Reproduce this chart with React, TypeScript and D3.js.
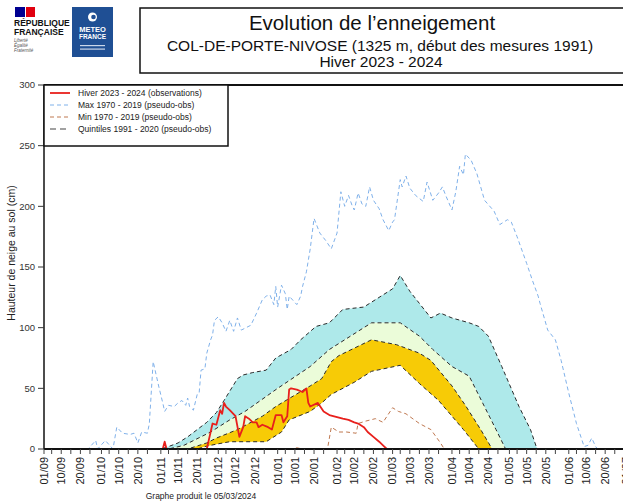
import React, { useEffect, useRef } from 'react';
import * as d3 from 'd3';

type Pt = [string, number];

// Hiver 2023 - 2024 observations (cm), dd/mm
const observations: Pt[] = [
  ['01/09', 0], ['02/11', 0], ['03/11', 6], ['04/11', 0], ['25/11', 0], ['28/11', 21], ['30/11', 20],
  ['02/12', 32], ['03/12', 29], ['04/12', 38], ['05/12', 35], ['07/12', 32], ['10/12', 27], ['12/12', 10],
  ['14/12', 18], ['15/12', 27], ['17/12', 25], ['19/12', 22], ['21/12', 22], ['22/12', 18], ['24/12', 20],
  ['27/12', 18], ['29/12', 16], ['31/12', 28], ['03/01', 28], ['04/01', 22], ['06/01', 27], ['07/01', 49],
  ['08/01', 50], ['11/01', 49], ['14/01', 47], ['16/01', 50], ['17/01', 38], ['18/01', 35], ['22/01', 38],
  ['25/01', 31], ['28/01', 28], ['04/02', 25], ['07/02', 24], ['10/02', 22], ['12/02', 21], ['15/02', 18],
  ['17/02', 14], ['20/02', 10], ['23/02', 6], ['25/02', 3], ['27/02', 0], ['05/03', 0],
];

// Max 1970 - 2019 (pseudo-obs)
const maxSeries: Pt[] = [
  ['01/09', 0], ['24/09', 0], ['28/09', 7], ['29/09', 0], ['03/10', 7], ['07/10', 0], ['09/10', 18],
  ['12/10', 13], ['16/10', 12], ['18/10', 13], ['20/10', 5], ['22/10', 14], ['25/10', 13], ['26/10', 21],
  ['28/10', 72], ['31/10', 51], ['02/11', 38], ['03/11', 31], ['05/11', 36], ['08/11', 35], ['10/11', 38],
  ['12/11', 40], ['14/11', 36], ['15/11', 42], ['16/11', 35], ['18/11', 32], ['20/11', 45], ['21/11', 46],
  ['22/11', 65], ['24/11', 66], ['25/11', 79], ['27/11', 90], ['28/11', 94], ['29/11', 106], ['01/12', 109],
  ['03/12', 104], ['05/12', 97], ['07/12', 106], ['09/12', 97], ['11/12', 108], ['13/12', 98], ['18/12', 102],
  ['21/12', 112], ['24/12', 123], ['26/12', 126], ['28/12', 127], ['30/12', 119], ['31/12', 134], ['01/01', 117],
  ['03/01', 135], ['05/01', 128], ['06/01', 115], ['07/01', 126], ['11/01', 119], ['13/01', 126], ['14/01', 134],
  ['16/01', 146], ['18/01', 165], ['20/01', 190], ['23/01', 178], ['26/01', 172], ['29/01', 165], ['01/02', 178],
  ['03/02', 212], ['05/02', 200], ['07/02', 209], ['09/02', 200], ['10/02', 197], ['12/02', 211], ['14/02', 202],
  ['16/02', 200], ['18/02', 216], ['20/02', 205], ['23/02', 198], ['25/02', 189], ['28/02', 180], ['01/03', 187],
  ['02/03', 189], ['05/03', 222], ['06/03', 216], ['08/03', 225], ['10/03', 215], ['13/03', 209], ['17/03', 204],
  ['19/03', 220], ['22/03', 205], ['25/03', 211], ['27/03', 216], ['29/03', 208], ['01/04', 197], ['03/04', 212],
  ['05/04', 233], ['07/04', 226], ['08/04', 243], ['11/04', 238], ['14/04', 227], ['18/04', 205], ['23/04', 196],
  ['26/04', 185], ['30/04', 189], ['02/05', 187], ['05/05', 175], ['10/05', 153], ['13/05', 139], ['16/05', 126],
  ['17/05', 120], ['21/05', 98], ['25/05', 90], ['28/05', 73], ['01/06', 46], ['05/06', 21], ['09/06', 2],
  ['11/06', 3], ['13/06', 9], ['15/06', 2], ['16/06', 0], ['31/08', 0],
];

// Min 1970 - 2019 (pseudo-obs)
const minSeries: Pt[] = [
  ['01/09', 0], ['08/01', 0], ['11/01', 1], ['14/01', 0], ['27/01', 0], ['29/01', 18], ['02/02', 14],
  ['06/02', 14], ['11/02', 13], ['12/02', 21], ['16/02', 23], ['21/02', 25], ['25/02', 22], ['01/03', 34],
  ['04/03', 31], ['08/03', 29], ['15/03', 21], ['21/03', 16], ['26/03', 5], ['28/03', 0], ['31/08', 0],
];

// Quintiles 1991 - 2020 (pseudo-obs)
const q80: Pt[] = [
  ['01/11', 0], ['05/11', 2], ['10/11', 5], ['15/11', 10], ['20/11', 16], ['25/11', 22], ['30/11', 30],
  ['04/12', 40], ['11/12', 58], ['14/12', 61], ['19/12', 63], ['26/12', 65], ['31/12', 75], ['08/01', 82],
  ['13/01', 90], ['21/01', 101], ['28/01', 104], ['04/02', 115], ['15/02', 117], ['01/03', 132], ['05/03', 143],
  ['10/03', 130], ['15/03', 120], ['21/03', 108], ['26/03', 112], ['01/04', 108], ['10/04', 104], ['15/04', 101],
  ['20/04', 93], ['27/04', 68], ['06/05', 35], ['12/05', 16], ['15/05', 2], ['16/05', 0],
];
const q60: Pt[] = [
  ['05/11', 0], ['13/11', 3], ['27/11', 14], ['07/12', 24], ['15/12', 31], ['01/01', 50], ['18/01', 68],
  ['28/01', 82], ['19/02', 104], ['05/03', 104], ['15/03', 93], ['22/03', 82], ['01/04', 68], ['10/04', 60],
  ['17/04', 38], ['24/04', 16], ['29/04', 0],
];
const q40: Pt[] = [
  ['15/11', 0], ['25/11', 5], ['30/11', 9], ['11/12', 16], ['24/12', 27], ['31/12', 35], ['18/01', 52],
  ['24/01', 58], ['29/01', 72], ['02/02', 77], ['19/02', 90], ['03/03', 86], ['15/03', 79], ['21/03', 73],
  ['01/04', 52], ['08/04', 36], ['16/04', 16], ['22/04', 0],
];
const q20: Pt[] = [
  ['20/11', 0], ['24/11', 2], ['30/11', 4], ['07/12', 6], ['26/12', 6], ['03/01', 14], ['07/01', 24],
  ['18/01', 31], ['24/01', 38], ['29/01', 45], ['10/02', 55], ['19/02', 64], ['05/03', 69], ['15/03', 54],
  ['25/03', 40], ['07/04', 16], ['15/04', 0],
];

const yTicks = [0, 50, 100, 150, 200, 250, 300];
const labelDays = [1, 10, 20];
const minorDays = [5, 15, 25];
const legendLabels = [
  'Hiver 2023 - 2024 (observations)',
  'Max 1970 - 2019 (pseudo-obs)',
  'Min 1970 - 2019 (pseudo-obs)',
  'Quintiles 1991 - 2020 (pseudo-obs)',
];
const titleLines = [
  'Evolution de l\u2019enneigement',
  'COL-DE-PORTE-NIVOSE (1325 m, d\u00e9but des mesures 1991)',
  'Hiver 2023 - 2024',
];

const parseDay = (s: string) => {
  const [dd, mm] = s.split('/').map(Number);
  return new Date(mm >= 9 ? 2023 : 2024, mm - 1, dd);
};

const FONT = '"Liberation Sans", Arial, sans-serif';

const SnowChart: React.FC = () => {
  const svgRef = useRef<SVGSVGElement>(null);

  useEffect(() => {
    if (!svgRef.current) return;
    document.body.style.margin = '0';
    const width = 623;
    const height = 501;
    const svg = d3.select(svgRef.current);
    svg.selectAll('*').remove();
    svg.attr('width', width).attr('height', height).style('display', 'block').style('background', '#fff');

    const start = new Date(2023, 8, 1);
    const end = new Date(2024, 8, 1);
    const x = d3.scaleTime().domain([start, end]).range([44, 745]);
    const y = d3.scaleLinear().domain([0, 300]).range([449, 85]);

    const toData = (s: Pt[]) => s.map(([d, v]) => [parseDay(d), v] as [Date, number]);
    const padZero = (s: Pt[]) => [[start, 0] as [Date, number], ...toData(s), [new Date(2024, 7, 31), 0] as [Date, number]];

    const line = d3.line<[Date, number]>().x(d => x(d[0])).y(d => y(d[1]));
    const band = (up: [Date, number][], lo: [Date, number][]) =>
      (line(up) || '') + 'L' + (line([...lo].reverse()) || '').slice(1) + 'Z';

    svg.append('defs').append('clipPath').attr('id', 'plot-clip')
      .append('rect').attr('x', 44).attr('y', 85).attr('width', 701).attr('height', 366);

    const plot = svg.append('g').attr('clip-path', 'url(#plot-clip)');

    const Q20 = padZero(q20), Q40 = padZero(q40), Q60 = padZero(q60), Q80 = padZero(q80);

    // bands between quintiles
    plot.append('path').attr('d', band(Q80, Q60)).attr('fill', '#aee9ea');
    plot.append('path').attr('d', band(Q60, Q40)).attr('fill', '#ebfcd9');
    plot.append('path').attr('d', band(Q40, Q20)).attr('fill', '#f7cb06');

    // max & min
    plot.append('path').attr('d', line(toData(maxSeries))).attr('fill', 'none')
      .attr('stroke', '#7fb1ea').attr('stroke-width', 1).attr('stroke-dasharray', '4,3');

    // axis base line
    svg.append('line').attr('x1', 44).attr('x2', 623).attr('y1', 449).attr('y2', 449)
      .attr('stroke', '#111').attr('stroke-width', 2);

    plot.append('path').attr('d', line(toData(minSeries))).attr('fill', 'none')
      .attr('stroke', '#bf7850').attr('stroke-width', 1).attr('stroke-dasharray', '4,3');

    [Q20, Q40, Q60, Q80].forEach(q => {
      plot.append('path').attr('d', line(q)).attr('fill', 'none')
        .attr('stroke', '#2a2a2a').attr('stroke-width', 1).attr('stroke-dasharray', '4,3');
    });

    plot.append('path').attr('d', line(toData(observations))).attr('fill', 'none')
      .attr('stroke', '#e8201c').attr('stroke-width', 1.8).attr('stroke-linejoin', 'round');

    // frame
    svg.append('line').attr('x1', 44).attr('x2', 623).attr('y1', 85).attr('y2', 85)
      .attr('stroke', '#111').attr('stroke-width', 2);
    svg.append('line').attr('x1', 44).attr('x2', 44).attr('y1', 85).attr('y2', 449)
      .attr('stroke', '#111').attr('stroke-width', 1.5);

    // y axis
    const yAxis = svg.append('g');
    yTicks.forEach(t => {
      yAxis.append('line').attr('x1', 38).attr('x2', 44).attr('y1', y(t)).attr('y2', y(t))
        .attr('stroke', '#333').attr('stroke-width', 1);
      yAxis.append('text').attr('x', 35).attr('y', y(t)).attr('dy', '0.35em')
        .attr('text-anchor', 'end').style('font-family', FONT).style('font-size', '9.5px')
        .style('fill', '#333').text(t);
    });
    svg.append('text')
      .attr('transform', `translate(15,253) rotate(-90)`)
      .attr('text-anchor', 'middle').style('font-family', FONT).style('font-size', '10.5px')
      .style('fill', '#222').text('Hauteur de neige au sol (cm)');

    // x axis
    const xAxis = svg.append('g');
    const months = d3.timeMonth.range(start, end);
    const fmt = d3.timeFormat('%d/%m');
    months.forEach(m => {
      minorDays.forEach(dd => {
        const d = new Date(m.getFullYear(), m.getMonth(), dd);
        xAxis.append('line').attr('x1', x(d)).attr('x2', x(d)).attr('y1', 449).attr('y2', 454)
          .attr('stroke', '#444').attr('stroke-width', 1);
      });
      labelDays.forEach(dd => {
        const d = new Date(m.getFullYear(), m.getMonth(), dd);
        const px = x(d);
        xAxis.append('line').attr('x1', px).attr('x2', px).attr('y1', 449).attr('y2', 454)
          .attr('stroke', '#444').attr('stroke-width', 1);
        xAxis.append('text')
          .attr('transform', `translate(${px},457) rotate(-90)`)
          .attr('dy', '0.35em').attr('text-anchor', 'end')
          .style('font-family', FONT).style('font-size', '11px').style('fill', '#222')
          .text(fmt(d));
      });
    });

    svg.append('text').attr('x', 201).attr('y', 499).attr('text-anchor', 'middle')
      .style('font-family', FONT).style('font-size', '8.5px').style('fill', '#222')
      .text('Graphe produit le 05/03/2024');

    // legend
    const lg = svg.append('g');
    lg.append('rect').attr('x', 44).attr('y', 85).attr('width', 184).attr('height', 61)
      .attr('fill', '#fff').attr('stroke', '#111').attr('stroke-width', 1.5);
    const legendStyles = [
      { stroke: '#e8201c', dash: null as string | null, w: 1.8 },
      { stroke: '#7fb1ea', dash: '4,3', w: 1 },
      { stroke: '#bf7850', dash: '4,3', w: 1 },
      { stroke: '#444', dash: '6,4', w: 1.2 },
    ];
    legendLabels.forEach((lab, i) => {
      const ly = 93 + i * 12;
      const st = legendStyles[i];
      const l = lg.append('line').attr('x1', 50).attr('x2', 70).attr('y1', ly).attr('y2', ly)
        .attr('stroke', st.stroke).attr('stroke-width', st.w);
      if (st.dash) l.attr('stroke-dasharray', st.dash);
      lg.append('text').attr('x', 78).attr('y', ly).attr('dy', '0.35em')
        .style('font-family', FONT).style('font-size', '8.5px').style('fill', '#222').text(lab);
    });

    // header: title box
    svg.append('rect').attr('x', 140).attr('y', 8).attr('width', 500).attr('height', 65)
      .attr('fill', 'none').attr('stroke', '#111').attr('stroke-width', 1.5);
    const titleY = [30, 51, 67];
    const titleSize = [20.5, 15.5, 15.5];
    const titleX = [372, 380, 381];
    titleLines.forEach((t, i) => {
      svg.append('text').attr('x', titleX[i]).attr('y', titleY[i]).attr('text-anchor', 'middle')
        .style('font-family', FONT).style('font-size', `${titleSize[i]}px`).style('fill', '#111')
        .text(t);
    });

    // République Française block
    const rf = svg.append('g');
    rf.append('rect').attr('x', 15).attr('y', 7).attr('width', 10).attr('height', 10).attr('fill', '#000091');
    rf.append('rect').attr('x', 26).attr('y', 7).attr('width', 9).attr('height', 10).attr('fill', '#e1000f');
    [['R\u00c9PUBLIQUE', 26], ['FRAN\u00c7AISE', 35]].forEach(([t, yy]) => {
      rf.append('text').attr('x', 14).attr('y', yy as number)
        .style('font-family', FONT).style('font-size', '8.5px').style('font-weight', 'bold')
        .style('fill', '#111').text(t as string);
    });
    [['Libert\u00e9', 42], ['\u00c9galit\u00e9', 47], ['Fraternit\u00e9', 52]].forEach(([t, yy]) => {
      rf.append('text').attr('x', 14).attr('y', yy as number)
        .style('font-family', FONT).style('font-size', '4.5px').style('font-style', 'italic')
        .style('fill', '#555').text(t as string);
    });

    // Météo-France block
    const mf = svg.append('g');
    mf.append('rect').attr('x', 72).attr('y', 7).attr('width', 41).attr('height', 50).attr('fill', '#1f4f94');
    mf.append('circle').attr('cx', 92.5).attr('cy', 17).attr('r', 4.5).attr('fill', '#fff');
    mf.append('circle').attr('cx', 93.5).attr('cy', 17).attr('r', 2.3).attr('fill', '#1f4f94');
    [['METEO', 32, 7.5], ['FRANCE', 39, 6.5]].forEach(([t, yy, fs]) => {
      mf.append('text').attr('x', 92.5).attr('y', yy as number).attr('text-anchor', 'middle')
        .style('font-family', FONT).style('font-size', `${fs}px`).style('font-weight', 'bold')
        .style('fill', '#fff').text(t as string);
    });
    [45, 48.5].forEach(yy => {
      mf.append('rect').attr('x', 80).attr('y', yy).attr('width', 25).attr('height', 1.2)
        .attr('fill', '#c9d6ea');
    });
  }, []);

  return <svg ref={svgRef} />;
};

export default function App() {
  return <SnowChart />;
}
